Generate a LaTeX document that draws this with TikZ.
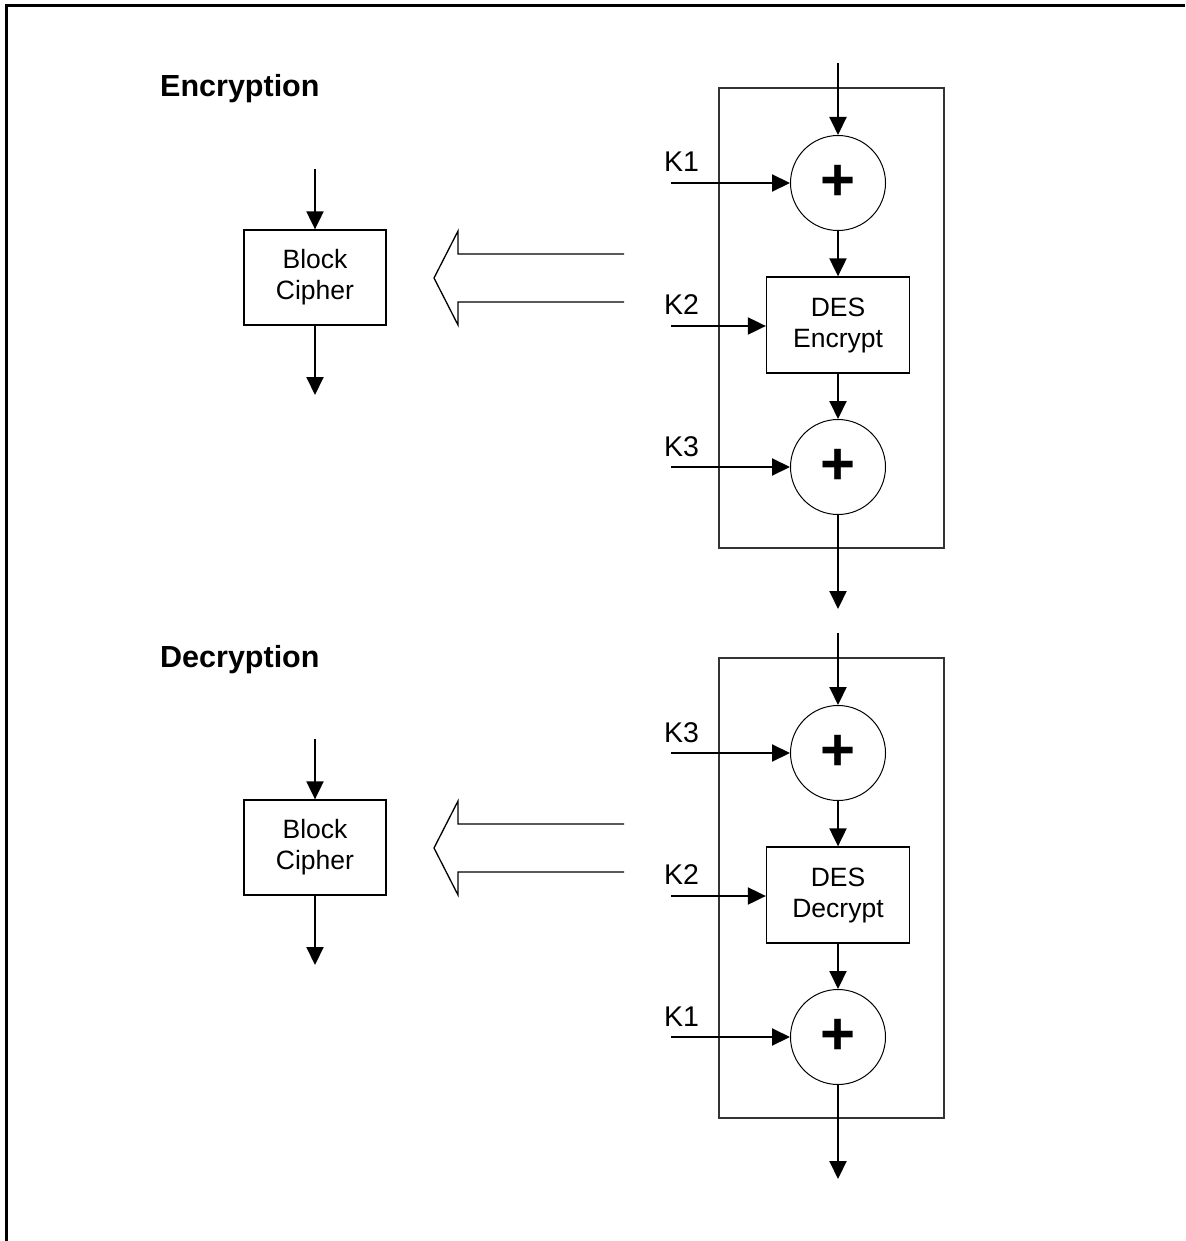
\documentclass[tikz,border=0pt]{standalone}
\usepackage{fontspec}
\setmainfont{Liberation Sans}
\usetikzlibrary{arrows.meta}
\begin{document}
\begin{tikzpicture}[x=1pt,y=-1pt,
  arr/.style={line width=2pt, -{Triangle[length=18pt,width=17pt]}},
  xorc/.style={circle, draw, line width=1pt, minimum size=95pt, inner sep=0pt, font=\bfseries\fontsize{60}{60}\selectfont},
  desbox/.style={draw, line width=1.3pt, minimum width=143pt, minimum height=96pt, align=center, inner sep=0pt, font=\fontsize{26.5}{31}\selectfont},
  bcbox/.style={draw, line width=1.3pt, minimum width=142pt, minimum height=95pt, align=center, inner sep=0pt, font=\fontsize{26.5}{31}\selectfont},
  framebox/.style={draw, line width=1.2pt, draw=black!80, minimum width=225pt, minimum height=460pt, inner sep=0pt},
  keylabel/.style={anchor=base west, inner sep=0pt, font=\fontsize{28.5}{28.5}\selectfont},
  heading/.style={anchor=base west, inner sep=0pt, font=\bfseries\fontsize{30.5}{30.5}\selectfont},
  hollow/.style={line width=1.3pt, line join=miter}
]
\useasboundingbox (0,0) rectangle (1185,1241);
\fill[white] (0,0) rectangle (1185,1241);
\draw[line width=3pt] (1185,6) -- (6,6) -- (6,1241);

% ---------------- Encryption ----------------
\node[heading] (hEnc) at (160,97) {Encryption};
\node[framebox] (fE) at (831.5,318) {};
\node[xorc] (eX1) at (838,183) {+};
\node[desbox] (eDES) at (838,325) {DES\\Encrypt};
\node[xorc] (eX2) at (838,467) {+};
\coordinate (eIn) at (838,63);
\coordinate (eOut) at (838,609);
\draw[arr] (eIn) -- (eX1);
\draw[arr] (eX1) -- (eDES);
\draw[arr] (eDES) -- (eX2);
\draw[arr] (eX2) -- (eOut);
\node[keylabel] (eK1) at (664,172) {K1};
\node[keylabel] (eK2) at (664,314) {K2};
\node[keylabel] (eK3) at (664,456) {K3};
\coordinate (eK1s) at (671,183);
\coordinate (eK2s) at (671,326);
\coordinate (eK3s) at (671,467);
\draw[arr] (eK1s) -- (eX1.west);
\draw[arr] (eK2s) -- (eK2s -| eDES.west);
\draw[arr] (eK3s) -- (eX2.west);
\node[bcbox] (eBC) at (315,277.5) {Block\\Cipher};
\coordinate (eBCin) at (315,169);
\coordinate (eBCout) at (315,395);
\draw[arr] (eBCin) -- (eBC);
\draw[arr] (eBC) -- (eBCout);
\draw[hollow] (624,254) -- (458,254) -- (458,231) -- (434,278) -- (458,325) -- (458,302) -- (624,302);

% ---------------- Decryption ----------------
\node[heading] (hDec) at (160,667) {Decryption};
\node[framebox] (fD) at (831.5,888) {};
\node[xorc] (dX1) at (838,753) {+};
\node[desbox] (dDES) at (838,895) {DES\\Decrypt};
\node[xorc] (dX2) at (838,1037) {+};
\coordinate (dIn) at (838,633);
\coordinate (dOut) at (838,1179);
\draw[arr] (dIn) -- (dX1);
\draw[arr] (dX1) -- (dDES);
\draw[arr] (dDES) -- (dX2);
\draw[arr] (dX2) -- (dOut);
\node[keylabel] (dK3) at (664,742) {K3};
\node[keylabel] (dK2) at (664,884) {K2};
\node[keylabel] (dK1) at (664,1026) {K1};
\coordinate (dK3s) at (671,753);
\coordinate (dK2s) at (671,896);
\coordinate (dK1s) at (671,1037);
\draw[arr] (dK3s) -- (dX1.west);
\draw[arr] (dK2s) -- (dK2s -| dDES.west);
\draw[arr] (dK1s) -- (dX2.west);
\node[bcbox] (dBC) at (315,847.5) {Block\\Cipher};
\coordinate (dBCin) at (315,739);
\coordinate (dBCout) at (315,965);
\draw[arr] (dBCin) -- (dBC);
\draw[arr] (dBC) -- (dBCout);
\draw[hollow] (624,824) -- (458,824) -- (458,801) -- (434,848) -- (458,895) -- (458,872) -- (624,872);
\end{tikzpicture}
\end{document}
